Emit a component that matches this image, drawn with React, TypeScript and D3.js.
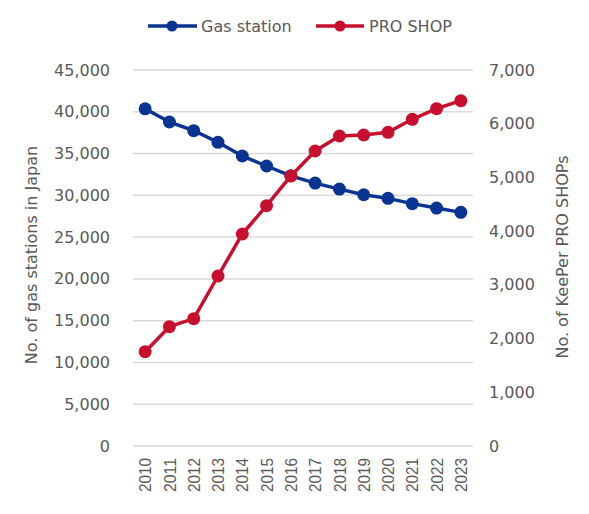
import React from 'react';
import * as d3 from 'd3';

const years = ['2010', '2011', '2012', '2013', '2014', '2015', '2016', '2017', '2018', '2019', '2020', '2021', '2022', '2023'];
const gasStations = [40357, 38777, 37743, 36349, 34706, 33510, 32333, 31467, 30747, 30070, 29637, 29005, 28475, 27963];
const proShops = [1756, 2221, 2370, 3165, 3947, 4474, 5027, 5492, 5771, 5790, 5840, 6082, 6280, 6429];
const leftTicks = [0, 5000, 10000, 15000, 20000, 25000, 30000, 35000, 40000, 45000];
const rightTicks = [0, 1000, 2000, 3000, 4000, 5000, 6000, 7000];

const W = 589;
const H = 514;
const BLUE = '#0A3491';
const RED = '#C8102E';
const TEXT = '#595959';
const FONT = '"DejaVu Sans", Verdana, sans-serif';

export default function App() {
  const x = d3.scaleBand<string>().domain(years).range([133, 473]).padding(0);
  const yL = d3.scaleLinear().domain([0, 45000]).range([446, 70]);
  const yR = d3.scaleLinear().domain([0, 7000]).range([446, 70]);
  const cx = (yr: string) => (x(yr) ?? 0) + x.bandwidth() / 2;
  const fmt = d3.format(',');

  const gasLine = d3.line<number>().x((_, i) => cx(years[i])).y(d => yL(d));
  const shopLine = d3.line<number>().x((_, i) => cx(years[i])).y(d => yR(d));

  return (
    <svg width={W} height={H} style={{ position: 'absolute', left: 0, top: 0, background: '#fff' }} fontFamily={FONT}>
      {/* grid */}
      {leftTicks.map(t => (
        <line key={t} x1={133} x2={473} y1={yL(t)} y2={yL(t)} stroke="#d9d9d9" strokeWidth={1.5} />
      ))}

      {/* left axis labels */}
      {leftTicks.map(t => (
        <text key={t} x={110} y={yL(t)} dy="0.35em" textAnchor="end" fontSize={16} fill={TEXT}>{fmt(t)}</text>
      ))}

      {/* right axis labels */}
      {rightTicks.map(t => (
        <text key={t} x={489} y={yR(t)} dy="0.35em" textAnchor="start" fontSize={16} fill={TEXT}>{fmt(t)}</text>
      ))}

      {/* x labels */}
      {years.map(yr => (
        <text key={yr} transform={`translate(${cx(yr)},458) rotate(-90)`} dy="0.36em" textAnchor="end"
          fontSize={17} fontFamily='"Liberation Sans", Arial, sans-serif' fill={TEXT}
          textLength={34} lengthAdjust="spacingAndGlyphs">{yr}</text>
      ))}

      {/* axis titles */}
      <text transform="translate(37,255) rotate(-90)" textAnchor="middle" fontSize={16} fill={TEXT}>No. of gas stations in Japan</text>
      <text transform="translate(568,257) rotate(-90)" textAnchor="middle" fontSize={16} fill={TEXT}>No. of KeePer PRO SHOPs</text>

      {/* series */}
      <path d={gasLine(gasStations) ?? ''} fill="none" stroke={BLUE} strokeWidth={3.5} strokeLinejoin="round" />
      {gasStations.map((v, i) => (
        <circle key={i} cx={cx(years[i])} cy={yL(v)} r={6.5} fill={BLUE} />
      ))}
      <path d={shopLine(proShops) ?? ''} fill="none" stroke={RED} strokeWidth={3.5} strokeLinejoin="round" />
      {proShops.map((v, i) => (
        <circle key={i} cx={cx(years[i])} cy={yR(v)} r={6.5} fill={RED} />
      ))}

      {/* legend */}
      <line x1={148} x2={197} y1={26} y2={26} stroke={BLUE} strokeWidth={3.5} />
      <circle cx={172} cy={26} r={5.5} fill={BLUE} />
      <text x={201} y={26} dy="0.35em" fontSize={16} fill={TEXT}>Gas station</text>
      <line x1={316} x2={364} y1={26} y2={26} stroke={RED} strokeWidth={3.5} />
      <circle cx={340} cy={26} r={5.5} fill={RED} />
      <text x={369} y={26} dy="0.35em" fontSize={16} fill={TEXT}>PRO SHOP</text>
    </svg>
  );
}
